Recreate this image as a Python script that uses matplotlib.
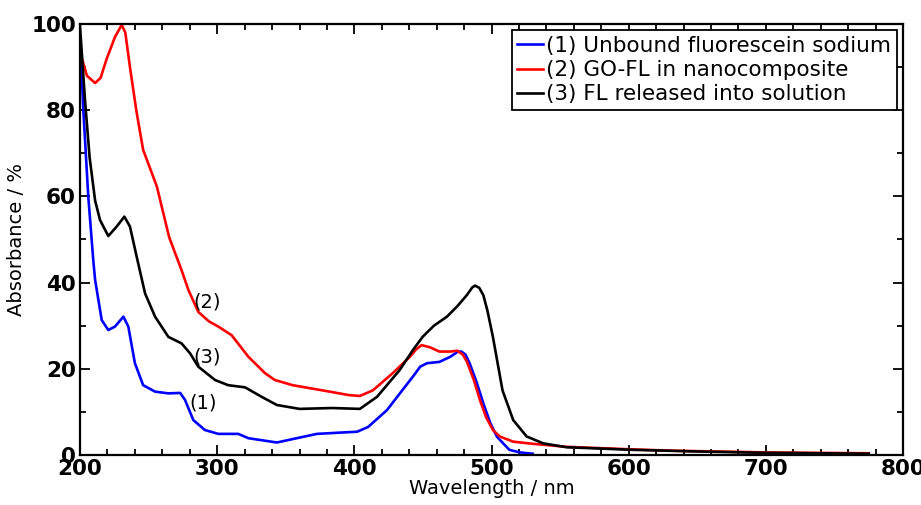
import matplotlib
matplotlib.use('Agg')
import matplotlib.pyplot as plt
from matplotlib.ticker import MultipleLocator

plt.rcParams['font.family'] = ['DejaVu Sans']

# (1) Unbound fluorescein sodium
wl1 = [200, 202.4, 206, 209.7, 211, 215.8, 220.6, 225.5, 231.6, 235.2, 240, 246,
       254.7, 264.4, 273, 276.5, 282.6, 291, 300.8, 315.4, 322.7, 343.5, 358,
       372.7, 390, 402, 410, 423.7, 442.7, 448, 453, 462, 470, 475.5, 478, 481,
       484, 489, 494, 499, 504, 513, 520.7, 530]
ab1 = [97, 80, 60, 45, 40.6, 31.3, 29, 29.8, 32.1, 29.8, 21.3, 16.2,
       14.7, 14.3, 14.4, 12.8, 8.1, 5.8, 4.9, 4.9, 3.9, 2.9, 3.9,
       4.9, 5.2, 5.4, 6.5, 10.4, 18.2, 20.5, 21.3, 21.6, 22.8, 24, 24, 23.3,
       21.3, 17, 12, 7.5, 4.2, 1.2, 0.6, 0.3]

# (2) GO-FL in nanocomposite
wl2 = [201, 205, 211, 215, 219.4, 225.5, 230.4, 233, 236.4, 241, 246, 256, 265,
       274, 279, 286.2, 294, 300.8, 310.5, 322.7, 334.8, 342, 355, 382, 396, 404,
       413.5, 428, 440.5, 445, 449, 455, 462, 470, 475, 479, 482, 487, 491.5,
       496, 501, 506, 515.7, 530, 554.7, 603, 632, 700, 775]
ab2 = [92.4, 88, 86.3, 87.5, 91.9, 97, 99.8, 98, 90, 80, 70.8, 62.3, 50.5,
       42.9, 38.3, 33.2, 31, 29.8, 27.8, 22.8, 19, 17.4, 16.2, 14.7, 13.9, 13.7,
       15, 19, 22.8, 24.5, 25.5, 25, 24, 24, 24.2, 23.3, 21.7, 17.5, 12.8,
       8.8, 5.8, 4.3, 3.1, 2.6, 1.9, 1.3, 1.0, 0.6, 0.4]

# (3) FL released into solution
wl3 = [200, 203.6, 207, 211, 214.6, 220.6, 226.7, 232.3, 236.4, 241.3, 247.4,
       254.7, 264.4, 274, 280.2, 286.2, 298.4, 308, 320.3, 332.4, 343.5, 360,
       384, 404, 416.5, 433, 443, 450, 458, 467.5, 475, 482, 486, 488, 491, 494,
       497, 501, 508, 515.8, 525.6, 537.7, 554.7, 603, 651.9, 700.5, 775]
ab3 = [99.4, 82.4, 69, 59, 54.5, 50.8, 53, 55.3, 53, 46, 37.5,
       32.1, 27.4, 25.9, 23.6, 20.5, 17.4, 16.2, 15.7, 13.5, 11.6, 10.7,
       10.9, 10.7, 13.5, 19.7, 24.5, 27.5, 30, 32.1, 34.5, 37.1, 38.9, 39.3, 38.8,
       37.1, 33.5, 27.4, 15, 8.1, 4.3, 2.7, 1.8, 1.2, 0.8, 0.5, 0.3]

names = ['(1) Unbound fluorescein sodium', '(2) GO-FL in nanocomposite',
         '(3) FL released into solution']
tags = ['(1)', '(2)', '(3)']
tag_pos = [(290, 12), (292.6, 35.5), (292.3, 22.8)]

fig = plt.figure(figsize=(9.21, 5.05), dpi=100)
ax = fig.add_axes([0.0869, 0.099, 0.8936, 0.8535])

ax.plot(wl1, ab1, color='#0000ff', lw=1.9, label=names[0])
ax.plot(wl2, ab2, color='#ff0000', lw=1.9, label=names[1])
ax.plot(wl3, ab3, color='black', lw=1.9, label=names[2])

for t, (x, y) in zip(tags, tag_pos):
    ax.text(x, y, t, fontsize=14, ha='center', va='center')

ax.set_xlim(200, 800)
ax.set_ylim(0, 100)
ax.xaxis.set_major_locator(MultipleLocator(100))
ax.xaxis.set_minor_locator(MultipleLocator(20))
ax.yaxis.set_major_locator(MultipleLocator(20))
ax.yaxis.set_minor_locator(MultipleLocator(10))
ax.tick_params(which='both', direction='in', top=True, right=True, width=1.3)
ax.tick_params(which='major', length=7, pad=3)
ax.tick_params(which='minor', length=4)
for lab in ax.get_xticklabels() + ax.get_yticklabels():
    lab.set_fontsize(15.5)
    lab.set_fontweight('bold')
for s in ax.spines.values():
    s.set_linewidth(1.6)

ax.set_xlabel('Wavelength / nm', fontsize=14, labelpad=0)
ax.set_ylabel('Absorbance / %', fontsize=14, labelpad=4)

leg = ax.legend(loc='upper right', fontsize=15.5, frameon=True, fancybox=False,
                edgecolor='black', framealpha=1, handlelength=1.2,
                handletextpad=0.15, labelspacing=0.2, borderpad=0.25,
                borderaxespad=0.3)
leg.get_frame().set_linewidth(1.3)

fig.savefig('out.png', dpi=100)
